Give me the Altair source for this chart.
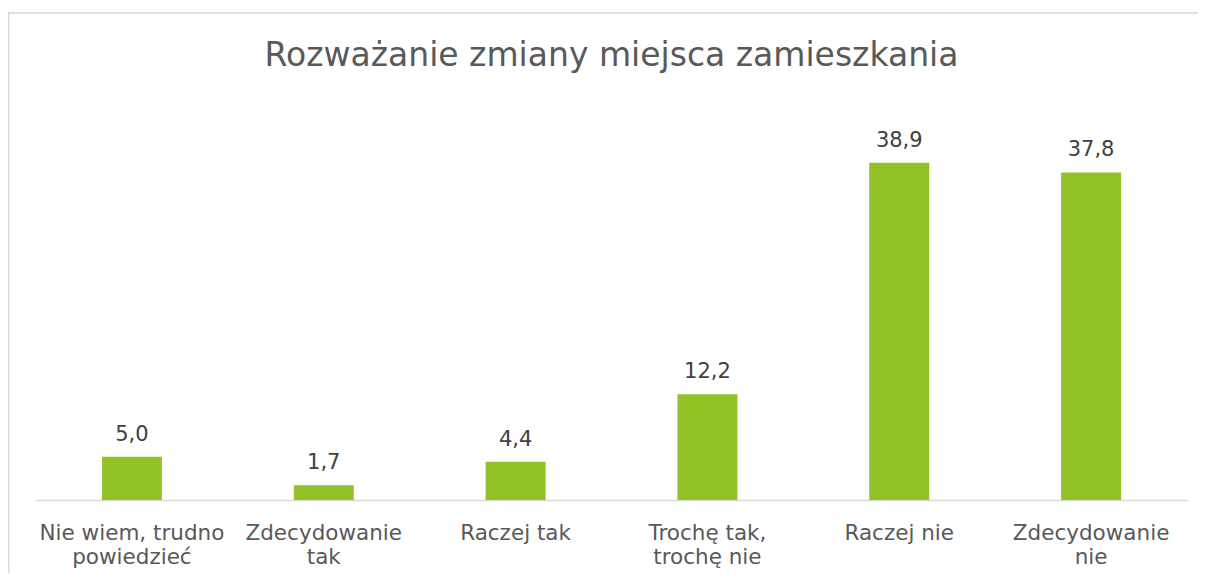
import altair as alt
import pandas as pd

categories = ["Nie wiem, trudno|powiedzieć", "Zdecydowanie|tak", "Raczej tak",
              "Trochę tak,|trochę nie", "Raczej nie", "Zdecydowanie|nie"]
values = [5.0, 1.7, 4.4, 12.2, 38.9, 37.8]
labels = [f"{v:.1f}".replace(".", ",") for v in values]

df = pd.DataFrame({"cat": categories, "val": values, "lab": labels})

FONT = "DejaVu Sans"

x = alt.X("cat:N", sort=categories, title=None,
          scale=alt.Scale(paddingInner=0.0, paddingOuter=0.0),
          axis=alt.Axis(labelExpr="split(datum.value, '|')", labelAngle=0,
                        ticks=False, domainColor="#d9d9d9", domainWidth=1.5,
                        labelFontSize=21.5, labelFont=FONT, labelColor="#595959",
                        labelLineHeight=24, labelPadding=22, labelLimit=300))
y = alt.Y("val:Q", scale=alt.Scale(domain=[0, 45], nice=False), axis=None)

border = alt.Chart(pd.DataFrame({"a": [0]})).mark_rect(
    fill=None, stroke="#d9d9d9", strokeWidth=1.5
).encode(x=alt.value(-27.2), x2=alt.value(1175), y=alt.value(-97), y2=alt.value(600))

bars = alt.Chart(df).mark_bar(size=60, color="#92C226").encode(x=x, y=y)
text = alt.Chart(df).mark_text(dy=-16, baseline="alphabetic", fontSize=21,
                               font=FONT, color="#404040").encode(
    x=alt.X("cat:N", sort=categories), y="val:Q", text="lab:N")

chart = alt.layer(border, bars, text).properties(
    width=1151, height=390,
    title=alt.TitleParams("Rozważanie zmiany miejsca zamieszkania", fontSize=33,
                          font=FONT, color="#595959", fontWeight="normal",
                          anchor="middle", offset=-87, baseline="alphabetic"),
    autosize=alt.AutoSizeParams(type="none"),
    padding={"left": 28, "top": 102, "right": 11, "bottom": 73},
).configure_view(stroke=None)

chart.save("out.html", embed_options={"renderer": "svg", "actions": False})
